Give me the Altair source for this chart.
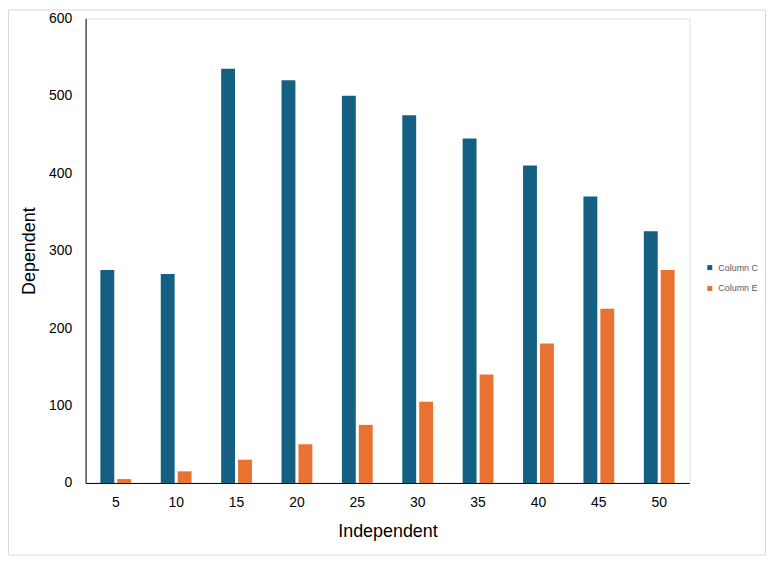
import altair as alt
import pandas as pd

categories = [5, 10, 15, 20, 25, 30, 35, 40, 45, 50]
column_c = [275, 270, 535, 520, 500, 475, 445, 410, 370, 325]
column_e = [5, 15, 30, 50, 75, 105, 140, 180, 225, 275]
series_names = ["Column C", "Column E"]
series_colors = ["#156082", "#E97132"]

rows = []
for cat, c, e in zip(categories, column_c, column_e):
    rows.append({"Independent": cat, "Series": series_names[0], "Value": c})
    rows.append({"Independent": cat, "Series": series_names[1], "Value": e})
df = pd.DataFrame(rows)

bars = alt.Chart(df).mark_bar().encode(
    x=alt.X("Independent:O", title="Independent",
            scale=alt.Scale(paddingInner=0.49, paddingOuter=0.245),
            axis=alt.Axis(labelAngle=0, ticks=False, domainColor="#000000",
                          labelFont="Liberation Sans", labelFontSize=14,
                          labelColor="#000000", labelPadding=13,
                          titleFont="Liberation Sans", titleFontSize=18,
                          titleFontWeight="normal", titleColor="#000000",
                          titlePadding=13)),
    xOffset=alt.XOffset("Series:N", scale=alt.Scale(paddingInner=0.18, paddingOuter=0)),
    y=alt.Y("Value:Q", title="Dependent",
            scale=alt.Scale(domain=[0, 600], nice=False),
            axis=alt.Axis(values=[0, 100, 200, 300, 400, 500, 600], ticks=False,
                          grid=False, domainColor="#000000",
                          labelFont="Liberation Sans", labelFontSize=14,
                          labelColor="#000000", labelPadding=14,
                          titleFont="Liberation Sans", titleFontSize=18,
                          titleFontWeight="normal", titleColor="#000000",
                          titlePadding=10)),
    color=alt.Color("Series:N",
                    scale=alt.Scale(domain=series_names, range=series_colors),
                    legend=alt.Legend(title=None, orient="none", legendX=623, legendY=246,
                                      symbolType="square", symbolSize=25,
                                      symbolStrokeWidth=0,
                                      labelFont="Liberation Sans", labelFontSize=9,
                                      labelColor="#595959", labelOffset=4,
                                      rowPadding=11)),
)

frame = alt.Chart(pd.DataFrame({"a": [0]})).mark_rect(
    fill=None, stroke="#d9d9d9", strokeWidth=1
).encode(
    x=alt.value(-77.5), x2=alt.value(683.5), y=alt.value(-8.5), y2=alt.value(539.5)
)

chart = alt.layer(frame, bars).properties(
    width=607, height=467,
    autosize=alt.AutoSizeParams(type="none"),
    padding={"left": 78, "top": 9, "right": 78, "bottom": 76},
).configure_view(stroke=None).configure(background="#ffffff")

chart.save("out.html", embed_options={"renderer": "svg", "actions": False})
